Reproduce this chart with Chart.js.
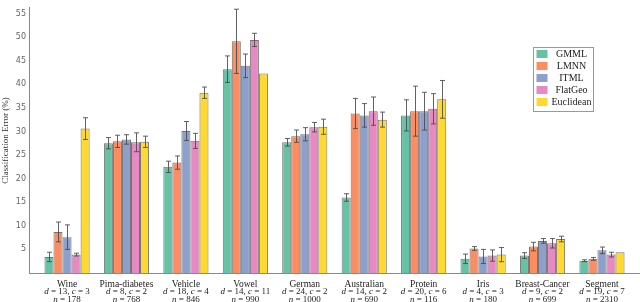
<!DOCTYPE html>
<html>
<head>
<meta charset="utf-8">
<script src="https://cdn.jsdelivr.net/npm/chart.js@4/dist/chart.umd.min.js"></script>
<style>
  html, body { margin: 0; padding: 0; background: #fff; }
  #wrap { width: 640px; height: 302px; }
</style>
</head>
<body>
<div id="wrap"><canvas id="myChart"></canvas></div>
<script>
var categories = ["Wine", "Pima-diabetes", "Vehicle", "Vowel", "German", "Australian", "Protein", "Iris", "Breast-Cancer", "Segment"];
var dimInfo = ["d = 13, c = 3", "d = 8, c = 2", "d = 18, c = 4", "d = 14, c = 11", "d = 24, c = 2",
               "d = 14, c = 2", "d = 20, c = 6", "d = 4, c = 3", "d = 9, c = 2", "d = 19, c = 7"];
var sizeInfo = ["n = 178", "n = 768", "n = 846", "n = 990", "n = 1000", "n = 690", "n = 116", "n = 180", "n = 699", "n = 2310"];
var yTicks = [5, 10, 15, 20, 25, 30, 35, 40, 45, 50, 55];

var methods = ["GMML", "LMNN", "ITML", "FlatGeo", "Euclidean"];
var colors = ["#66c2a5", "#fc8d62", "#8da0cb", "#e78ac3", "#ffd92f"];

var gmml      = [3.4, 27.5, 22.5, 43.2, 27.7, 16.0, 33.4, 3.0, 3.7, 2.6];
var lmnn      = [8.7, 27.9, 23.4, 49.1, 29.0, 33.8, 34.3, 5.2, 5.6, 3.0];
var itml      = [7.6, 28.3, 30.1, 43.9, 29.4, 33.4, 34.3, 3.5, 6.8, 4.8];
var flatgeo   = [3.9, 27.7, 28.0, 49.4, 30.9, 34.3, 34.8, 3.7, 6.3, 3.9];
var euclidean = [30.6, 27.8, 38.2, 42.3, 31.0, 32.5, 36.8, 3.9, 7.2, 4.4];

var gmmlErr      = [1.0, 1.2, 1.2, 2.8, 0.8, 0.8, 3.3, 1.0, 0.6, 0.2];
var lmnnErr      = [2.1, 1.3, 1.4, 6.8, 1.3, 3.2, 5.3, 0.4, 0.9, 0.3];
var itmlErr      = [2.6, 1.0, 2.0, 2.5, 1.4, 2.5, 4.0, 1.5, 0.5, 0.7];
var flatgeoErr   = [0.3, 2.0, 1.6, 1.4, 1.0, 3.0, 3.2, 1.2, 1.0, 0.5];
var euclideanErr = [2.3, 1.2, 1.2, 0, 1.6, 1.6, 4.0, 1.5, 0.6, 0];

var series = [gmml, lmnn, itml, flatgeo, euclidean];
var errors = [gmmlErr, lmnnErr, itmlErr, flatgeoErr, euclideanErr];

var serif = "'Liberation Serif', 'DejaVu Serif', serif";

// error bars on top of each bar
var errorBars = {
    id: 'errorBars',
    afterDatasetsDraw: function (chart) {
        var ctx = chart.ctx;
        var y = chart.scales.y;
        ctx.save();
        ctx.strokeStyle = 'rgba(70,70,70,0.85)';
        ctx.lineWidth = 1;
        chart.data.datasets.forEach(function (ds, di) {
            var meta = chart.getDatasetMeta(di);
            meta.data.forEach(function (bar, i) {
                var e = errors[di][i];
                if (!e) return;
                var v = series[di][i];
                var x = Math.round(bar.x) + 0.5;
                var t = y.getPixelForValue(v + e), b = y.getPixelForValue(v - e);
                ctx.beginPath();
                ctx.moveTo(x, t); ctx.lineTo(x, b);
                ctx.moveTo(x - 2.5, t); ctx.lineTo(x + 2.5, t);
                ctx.moveTo(x - 2.5, b); ctx.lineTo(x + 2.5, b);
                ctx.stroke();
            });
        });
        ctx.restore();
    }
};

// text with italic variable letters
function mathText(ctx, str, cx, cy, size) {
    var parts = str.match(/[a-z]+|[^a-z]+/g);
    var fontN = size + 'px ' + serif, fontI = 'italic ' + size + 'px ' + serif;
    var w = 0;
    parts.forEach(function (p) {
        ctx.font = /[a-z]/.test(p) ? fontI : fontN;
        w += ctx.measureText(p).width;
    });
    var x = cx - w / 2;
    ctx.textAlign = 'left';
    parts.forEach(function (p) {
        ctx.font = /[a-z]/.test(p) ? fontI : fontN;
        ctx.fillText(p, x, cy);
        x += ctx.measureText(p).width;
    });
}

var labelsAndLegend = {
    id: 'labelsAndLegend',
    afterDraw: function (chart) {
        var ctx = chart.ctx;
        var xs = chart.scales.x;
        var bottom = chart.chartArea.bottom;
        ctx.save();
        ctx.fillStyle = '#222';
        ctx.textBaseline = 'middle';
        categories.forEach(function (c, i) {
            var x = xs.getPixelForValue(i);
            ctx.font = '9.5px ' + serif;
            ctx.textAlign = 'center';
            ctx.fillText(c, x, bottom + 11);
            mathText(ctx, dimInfo[i], x, bottom + 19, 9);
            mathText(ctx, sizeInfo[i], x, bottom + 26.5, 9);
        });

        // legend box
        var lx = 533.5, ly = 47.5, lw = 60, lh = 64;
        ctx.fillStyle = '#fff';
        ctx.fillRect(lx, ly, lw, lh);
        ctx.strokeStyle = '#999';
        ctx.lineWidth = 1;
        ctx.strokeRect(lx, ly, lw, lh);
        methods.forEach(function (m, i) {
            var ry = ly + 6 + i * 12;
            ctx.fillStyle = colors[i];
            ctx.fillRect(lx + 3, ry - 3.5, 11, 8);
            ctx.fillStyle = '#222';
            ctx.font = '10px ' + serif;
            ctx.textAlign = 'center';
            ctx.fillText(m, lx + 38, ry + 0.5);
        });
        ctx.restore();
    }
};

var datasets = methods.map(function (m, k) {
    return {
        label: m,
        data: series[k].map(function (v, i) { return { x: i, y: v }; }),
        backgroundColor: colors[k],
        borderColor: 'rgba(70,70,70,0.75)',
        borderWidth: 1,
        categoryPercentage: 0.76,
        barPercentage: 1.0
    };
});

new Chart("myChart", {
    type: "bar",
    data: { datasets: datasets },
    options: {
        responsive: true,
        maintainAspectRatio: false,
        animation: false,
        layout: { padding: { top: 0, right: 0, bottom: 29, left: 0 } },
        plugins: {
            legend: { display: false },
            tooltip: { enabled: false }
        },
        scales: {
            x: {
                type: 'linear',
                min: -0.64,
                max: 9.64,
                offset: false,
                grid: { display: false, drawTicks: false },
                border: { display: true, color: '#888' },
                ticks: { display: false }
            },
            y: {
                min: 0,
                max: 56.2,
                grid: { display: false, drawTicks: false },
                border: { display: true, color: '#888' },
                ticks: {
                    padding: 3,
                    color: '#666',
                    font: { family: "'DejaVu Sans', sans-serif", size: 8 }
                },
                afterBuildTicks: function (scale) {
                    scale.ticks = yTicks.map(function (v) { return { value: v }; });
                },
                afterFit: function (scale) { scale.width = 29; },
                title: {
                    display: true,
                    text: 'Classification Error (%)',
                    color: '#333',
                    padding: 0,
                    font: { family: serif, size: 9 }
                }
            }
        }
    },
    plugins: [errorBars, labelsAndLegend]
});
</script>
</body>
</html>
